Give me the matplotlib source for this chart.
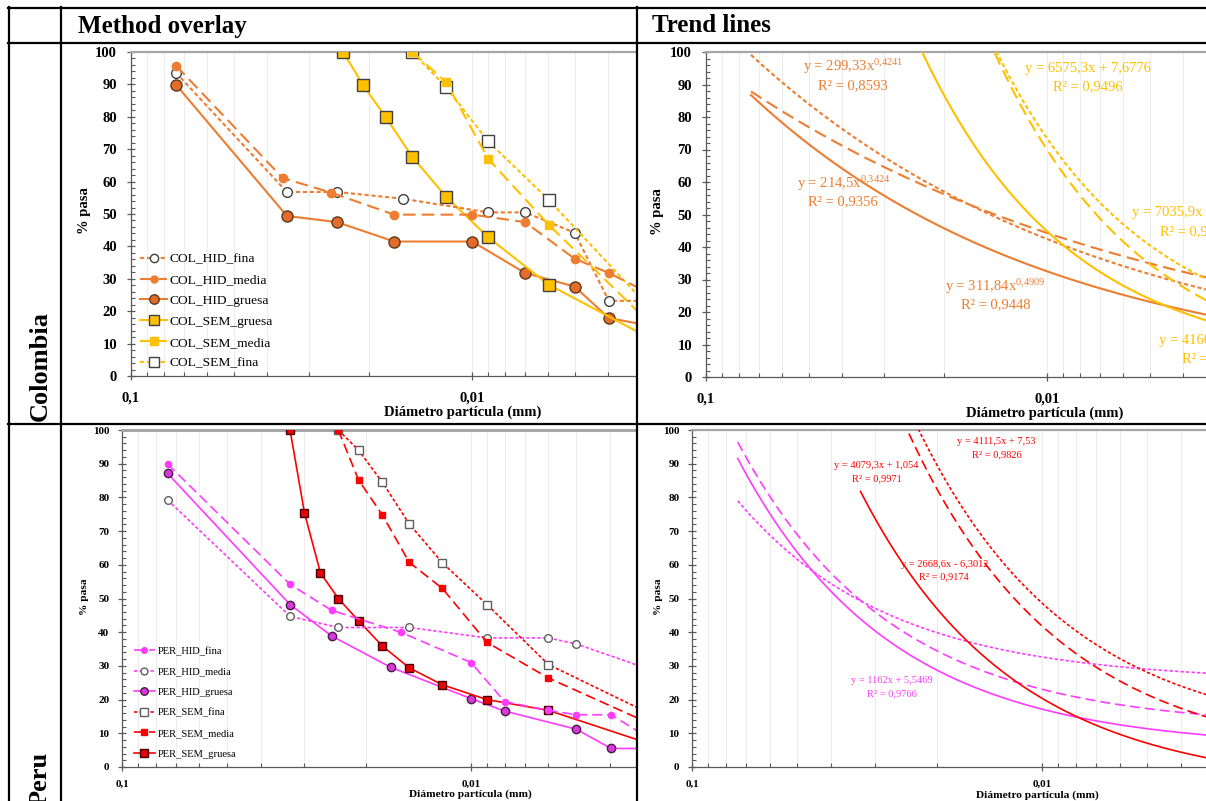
import numpy as np
import matplotlib
matplotlib.use('Agg')
import matplotlib.pyplot as plt
from matplotlib.ticker import LogLocator, NullFormatter, MultipleLocator
from matplotlib.lines import Line2D

plt.rcParams['font.family'] = ['Liberation Serif', 'DejaVu Serif']
plt.rcParams['mathtext.fontset'] = 'custom'
plt.rcParams['mathtext.rm'] = 'Liberation Serif'
plt.rcParams['mathtext.it'] = 'Liberation Serif:italic'
plt.rcParams['mathtext.bf'] = 'Liberation Serif:bold'

# ---------------- data ----------------
header_labels = ['Method overlay', 'Trend lines']
row_labels = ['Colombia', 'Peru']
x_tick_vals = [0.1, 0.01]
x_tick_labels = ['0,1', '0,01']
y_tick_vals = list(range(0, 101, 10))
x_label = 'Diámetro partícula (mm)'
y_label = '% pasa'

# Colombia overlay
col_names = ['COL_HID_fina', 'COL_HID_media', 'COL_HID_gruesa',
             'COL_SEM_gruesa', 'COL_SEM_media', 'COL_SEM_fina']
col_hid_fina_x = [0.0738, 0.0349, 0.0249, 0.0159, 0.00896, 0.00699, 0.0050, 0.00397, 0.0028]
col_hid_fina_y = [93.6, 56.8, 56.8, 54.7, 50.5, 50.5, 44.2, 23.2, 23.2]
col_hid_media_x = [0.0738, 0.0359, 0.0259, 0.0169, 0.00998, 0.00699, 0.0050, 0.00397, 0.0028]
col_hid_media_y = [95.8, 61.1, 56.6, 49.8, 49.8, 47.5, 36.2, 31.8, 23.8]
col_hid_gruesa_x = [0.0738, 0.0349, 0.0249, 0.0169, 0.00998, 0.00699, 0.0050, 0.00397, 0.0028]
col_hid_gruesa_y = [89.9, 49.4, 47.5, 41.5, 41.5, 31.8, 27.6, 17.9, 14.9]
col_sem_gruesa_x = [0.02387, 0.0209, 0.01791, 0.01496, 0.01193, 0.00896, 0.00596, 0.0028]
col_sem_gruesa_y = [100.0, 89.9, 79.9, 67.6, 55.4, 42.8, 28.2, 9.9]
col_sem_media_x = [0.01496, 0.01193, 0.00896, 0.00596, 0.0028]
col_sem_media_y = [100.0, 90.8, 67.0, 46.7, 13.1]
col_sem_fina_x = [0.01496, 0.01193, 0.00896, 0.00596, 0.0028]
col_sem_fina_y = [100.0, 89.2, 72.4, 54.4, 17.4]

# Peru overlay
per_names = ['PER_HID_fina', 'PER_HID_media', 'PER_HID_gruesa',
             'PER_SEM_fina', 'PER_SEM_media', 'PER_SEM_gruesa']
per_hid_fina_x = [0.0740, 0.0330, 0.0251, 0.0159, 0.0100, 0.00801, 0.0060, 0.00499, 0.00397, 0.0028]
per_hid_fina_y = [89.9, 54.2, 46.5, 40.0, 31.0, 19.4, 16.8, 15.5, 15.5, 5.8]
per_hid_media_x = [0.0740, 0.0330, 0.0240, 0.01503, 0.0090, 0.0060, 0.00499, 0.0028]
per_hid_media_y = [79.2, 44.7, 41.4, 41.4, 38.3, 38.3, 36.5, 27.5]
per_hid_gruesa_x = [0.0740, 0.0330, 0.0251, 0.0170, 0.0100, 0.00801, 0.00499, 0.00397, 0.0028]
per_hid_gruesa_y = [87.1, 48.2, 38.9, 29.6, 20.3, 16.6, 11.2, 5.5, 5.5]
per_sem_fina_x = [0.0240, 0.0210, 0.01795, 0.01502, 0.01208, 0.0090, 0.0060, 0.0028]
per_sem_fina_y = [100.0, 94.0, 84.5, 72.1, 60.6, 48.2, 30.4, 13.8]
per_sem_media_x = [0.0240, 0.0210, 0.01795, 0.01502, 0.01208, 0.0090, 0.0060, 0.0028]
per_sem_media_y = [100.0, 85.2, 74.8, 60.7, 53.0, 37.0, 26.4, 11.0]
per_sem_gruesa_x = [0.0330, 0.0300, 0.0270, 0.0240, 0.0210, 0.01795, 0.01502, 0.01208, 0.0090, 0.0060, 0.0028]
per_sem_gruesa_y = [100.0, 75.4, 57.6, 50.0, 43.4, 35.9, 29.4, 24.4, 20.0, 16.8, 5.5]

col_pow_a = [299.33, 214.5, 311.84]          # HID fina, media, gruesa : y = a x^b
col_pow_b = [0.4241, 0.3424, 0.4909]
col_pow_start = [0.0738, 0.0738, 0.0738]
col_lin_a = [6575.3, 7035.9, 4166.2]          # SEM fina, media, gruesa : y = a x + b
col_lin_b = [7.6776, -0.4103, 3.2]
col_lin_start = [0.01496, 0.01496, 0.02387]
col_eq_texts = [r'y = 299,33x$^{0{,}4241}$', r'y = 214,5x$^{0{,}3424}$', r'y = 311,84x$^{0{,}4909}$',
                'y = 6575,3x + 7,6776', 'y = 7035,9x - 0,4103', 'y = 4166,2x + 3,2']
col_r2_texts = ['R² = 0,8593', 'R² = 0,9356', 'R² = 0,9448',
                'R² = 0,9496', 'R² = 0,9597', 'R² = 0,9872']
col_eq_pos = [(0.0371, 95.4), (0.0396, 59.5), (0.01417, 27.9),
              (0.0076, 94.9), (0.005636, 50.5), (0.004695, 11.3)]
col_r2_pos = [(0.0371, 89.5), (0.0396, 53.8), (0.01417, 22.3),
              (0.0076, 89.2), (0.004661, 44.8), (0.004027, 5.6)]

# Peru trend lines (all linear y = a x + b)
per_lin_a = [1146.0, 724.0, 1162.0, 4111.5, 4079.3, 2668.6]   # HID fina, media, gruesa, SEM fina, media, gruesa
per_lin_b = [11.6, 25.4, 5.5469, 7.53, 1.054, -6.3012]
per_lin_start = [0.0740, 0.0740, 0.0740, 0.0240, 0.0240, 0.0330]
per_eq_texts = ['y = 1162x + 5,5469', 'y = 4111,5x + 7,53', 'y = 4079,3x + 1,054', 'y = 2668,6x - 6,3012']
per_r2_texts = ['R² = 0,9766', 'R² = 0,9826', 'R² = 0,9971', 'R² = 0,9174']
per_eq_pos = [(0.02685, 25.6), (0.0135, 96.6), (0.0297, 89.5), (0.01901, 60.2)]
per_r2_pos = [(0.02685, 21.7), (0.0135, 92.5), (0.0297, 85.6), (0.01901, 56.3)]
per_eq_series = [2, 3, 4, 5]

trend_end = 0.002

# ---------------- styles ----------------
ORANGE = '#ED7D31'
GOLD = '#FFC000'
MAGENTA = '#FF3BFF'
RED = '#FF0000'
DARK = '#404040'
SHORT = (0, (2.0, 1.3))
LONG = (0, (6.0, 3.0))

W, H = 1206, 801
fig = plt.figure(figsize=(W / 100, H / 100), dpi=100)


def px_axes(l, r, t, b):
    return fig.add_axes([l / W, 1 - b / H, (r - l) / W, (b - t) / H])


def style_axes(ax, dec_px, width_px, tick_fs, lab_fs, ylab_xy, xlab_xy, ypad, xpad, top_lw):
    ax.set_xscale('log')
    ax.set_xlim(0.1, 10 ** (-1 - width_px / dec_px))
    ax.set_ylim(0, 100)
    ax.set_xticks(x_tick_vals, labels=x_tick_labels, fontweight='bold', fontsize=tick_fs)
    ax.xaxis.set_minor_locator(LogLocator(base=10, subs=np.arange(2, 10), numticks=20))
    ax.xaxis.set_minor_formatter(NullFormatter())
    ax.set_yticks(y_tick_vals, labels=[str(v) for v in y_tick_vals], fontweight='bold', fontsize=tick_fs)
    ax.yaxis.set_minor_locator(MultipleLocator(2))
    ax.grid(True, which='both', axis='x', color='#EDEDED', lw=0.8, zorder=0)
    ax.set_axisbelow(True)
    ax.spines['right'].set_visible(False)
    ax.spines['top'].set_color('#A6A6A6')
    ax.spines['top'].set_linewidth(top_lw)
    for s in ['left', 'bottom']:
        ax.spines[s].set_color('#595959')
        ax.spines[s].set_linewidth(0.9)
    ax.tick_params(axis='both', which='major', direction='inout', length=6, width=0.9, color='#595959')
    ax.tick_params(axis='both', which='minor', direction='in', length=3, width=0.8, color='#595959')
    ax.tick_params(axis='y', which='major', pad=ypad)
    ax.tick_params(axis='x', which='major', pad=xpad)
    ax.set_ylabel(y_label, fontsize=lab_fs, fontweight='bold')
    ax.yaxis.set_label_coords(*ylab_xy)
    ax.set_xlabel(x_label, fontsize=lab_fs, fontweight='bold')
    ax.xaxis.set_label_coords(*xlab_xy)
    ax.xaxis.label.set_va('center')
    ax.yaxis.label.set_va('center')
    ax.set_facecolor('white')


def series(ax, x, y, color, ls, marker, ms, mfc, mec, lw, label, z):
    ax.plot(x, y, color=color, ls=ls, lw=lw, marker=marker, ms=ms, mfc=mfc, mec=mec,
            mew=1.0, label=label, zorder=z, clip_on=True)


# ---------- Colombia overlay ----------
ax1 = px_axes(131, 636, 52, 376)
style_axes(ax1, 341, 505, 10.5, 10.5, (-0.092, 0.51), (0.657, -0.111), 7, 8, 1.6)
lw1 = 1.5
series(ax1, col_hid_fina_x, col_hid_fina_y, ORANGE, SHORT, 'o', 7, 'white', DARK, lw1, col_names[0], 4)
series(ax1, col_hid_media_x, col_hid_media_y, ORANGE, LONG, 'o', 6, ORANGE, ORANGE, lw1, col_names[1], 5)
series(ax1, col_hid_gruesa_x, col_hid_gruesa_y, ORANGE, '-', 'o', 8, '#E46C2A', '#5A3A1E', lw1, col_names[2], 3)
series(ax1, col_sem_gruesa_x, col_sem_gruesa_y, GOLD, '-', 's', 8, GOLD, DARK, lw1, col_names[3], 3)
series(ax1, col_sem_media_x, col_sem_media_y, GOLD, LONG, 's', 6, GOLD, GOLD, lw1, col_names[4], 5)
series(ax1, col_sem_fina_x, col_sem_fina_y, GOLD, SHORT, 's', 8, 'white', DARK, lw1, col_names[5], 4)
ax1.legend(loc='lower left', bbox_to_anchor=(0.018, 0.02), frameon=False, fontsize=9.7,
           handlelength=2.0, handletextpad=0.2, labelspacing=0.62, borderpad=0, borderaxespad=0,
           numpoints=1, markerscale=0.85)

# ---------- Colombia trend ----------
ax2 = px_axes(706, 1206, 52, 377)
style_axes(ax2, 341, 500, 10.5, 10.5, (-0.096, 0.51), (0.678, -0.111), 7, 8, 1.6)
col_pow_ls = [SHORT, LONG, '-']
for a, b, xs, ls in zip(col_pow_a, col_pow_b, col_pow_start, col_pow_ls):
    xx = np.geomspace(xs, trend_end, 300)
    ax2.plot(xx, a * xx ** b, color=ORANGE, ls=ls, lw=1.5, zorder=3)
col_lin_ls = [SHORT, LONG, '-']
for a, b, xs, ls in zip(col_lin_a, col_lin_b, col_lin_start, col_lin_ls):
    xx = np.geomspace(xs, trend_end, 300)
    ax2.plot(xx, a * xx + b, color=GOLD, ls=ls, lw=1.5, zorder=3)
for i, (t, r, p, q) in enumerate(zip(col_eq_texts, col_r2_texts, col_eq_pos, col_r2_pos)):
    c = ORANGE if i < 3 else GOLD
    ha = 'center' if i < 4 else 'left'
    ax2.text(p[0], p[1], t, color=c, fontsize=10.5, ha=ha, va='center', clip_on=False, zorder=6)
    ax2.text(q[0], q[1], r, color=c, fontsize=10.5, ha=ha, va='center', clip_on=False, zorder=6)

# ---------- Peru overlay ----------
ax3 = px_axes(122, 636, 430, 767)
style_axes(ax3, 349, 514, 8, 8.2, (-0.073, 0.505), (0.677, -0.080), 6, 6, 2.2)
lw3 = 1.2
series(ax3, per_hid_fina_x, per_hid_fina_y, MAGENTA, LONG, 'o', 4.5, MAGENTA, MAGENTA, lw3, per_names[0], 5)
series(ax3, per_hid_media_x, per_hid_media_y, MAGENTA, SHORT, 'o', 5.5, 'white', '#606060', lw3, per_names[1], 4)
series(ax3, per_hid_gruesa_x, per_hid_gruesa_y, MAGENTA, '-', 'o', 6, '#D83AD8', '#4A1A4A', lw3, per_names[2], 3)
series(ax3, per_sem_fina_x, per_sem_fina_y, RED, SHORT, 's', 6, 'white', '#606060', lw3, per_names[3], 4)
series(ax3, per_sem_media_x, per_sem_media_y, RED, LONG, 's', 5, RED, RED, lw3, per_names[4], 5)
series(ax3, per_sem_gruesa_x, per_sem_gruesa_y, RED, '-', 's', 6, '#E8000B', '#4A0000', lw3, per_names[5], 3)
ax3.legend(loc='lower left', bbox_to_anchor=(0.023, 0.025), frameon=False, fontsize=7.6,
           handlelength=2.0, handletextpad=0.3, labelspacing=1.05, borderpad=0, borderaxespad=0,
           numpoints=1, markerscale=0.9)

# ---------- Peru trend ----------
ax4 = px_axes(692, 1206, 430, 767)
style_axes(ax4, 350, 514, 8, 8.2, (-0.066, 0.505), (0.671, -0.083), 6, 6, 1.6)
per_ls = [LONG, SHORT, '-', SHORT, LONG, '-']
per_col = [MAGENTA] * 3 + [RED] * 3
for a, b, xs, ls, c in zip(per_lin_a, per_lin_b, per_lin_start, per_ls, per_col):
    xx = np.geomspace(xs, trend_end, 300)
    ax4.plot(xx, a * xx + b, color=c, ls=ls, lw=1.2, zorder=3)
for t, r, p, q, si in zip(per_eq_texts, per_r2_texts, per_eq_pos, per_r2_pos, per_eq_series):
    c = per_col[si]
    ax4.text(p[0], p[1], t, color=c, fontsize=7.5, ha='center', va='center', zorder=6)
    ax4.text(q[0], q[1], r, color=c, fontsize=7.5, ha='center', va='center', zorder=6)

# ---------- table frame ----------
def hline(y, x0, x1):
    fig.add_artist(Line2D([x0 / W, x1 / W], [1 - y / H, 1 - y / H], color='black', lw=1.6, zorder=20))


def vline(x, y0, y1):
    fig.add_artist(Line2D([x / W, x / W], [1 - y0 / H, 1 - y1 / H], color='black', lw=1.6, zorder=20))


hline(7.5, 8, W)
hline(43, 8, W)
hline(424, 8, W)
vline(8.5, 7, H)
vline(61, 7, H)
vline(636.5, 7, H)

fig.text(78 / W, 1 - 26 / H, header_labels[0], fontsize=18, fontweight='bold', ha='left', va='center')
fig.text(652 / W, 1 - 26 / H, header_labels[1], fontsize=18, fontweight='bold', ha='left', va='center')
fig.text(40 / W, 1 - 421 / H, row_labels[0], fontsize=19, fontweight='bold', rotation=90,
         ha='center', va='bottom')
fig.text(40 / W, 1 - 806 / H, row_labels[1], fontsize=19, fontweight='bold', rotation=90,
         ha='center', va='bottom')

fig.savefig('out.png', dpi=100, facecolor='white')
